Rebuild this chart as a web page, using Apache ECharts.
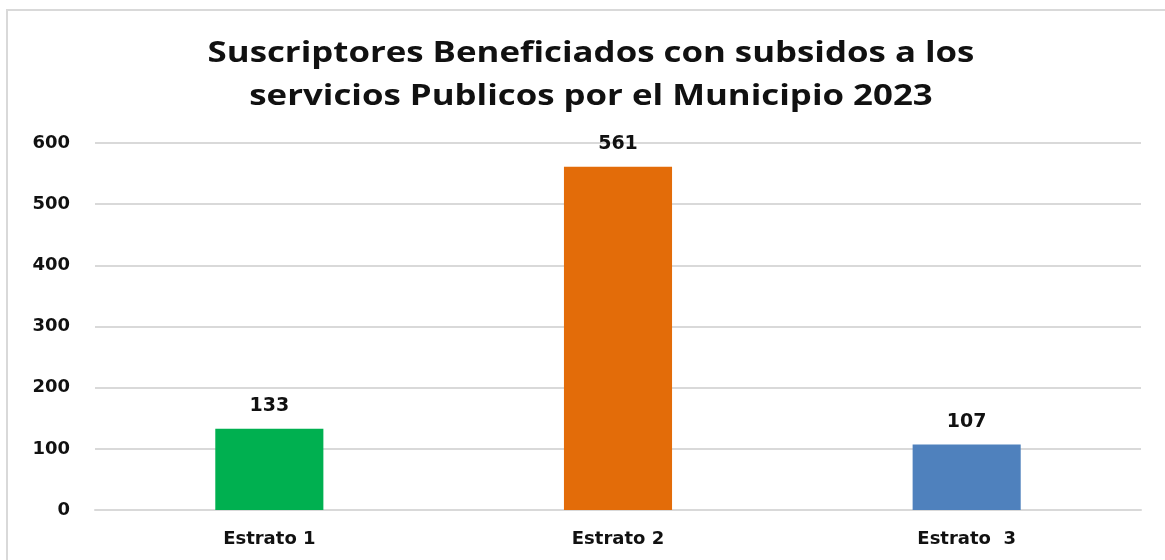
<!DOCTYPE html>
<html>
<head>
<meta charset="utf-8">
<script src="https://cdn.jsdelivr.net/npm/echarts@6/dist/echarts.min.js"></script>
<style>
  html, body { margin: 0; padding: 0; background: #fff; }
  #chart { width: 1165px; height: 560px; }
</style>
</head>
<body>
<div id="chart"></div>
<script>
// datos del grafico
var titulo = 'Suscriptores Beneficiados con subsidos a los\nservicios Publicos por el Municipio 2023';
var categorias = ['Estrato 1', 'Estrato 2', 'Estrato  3'];
var suscriptores = [133, 561, 107];
var colores = ['#00B050', '#E36C09', '#4F81BD'];
var ticksY = [0, 100, 200, 300, 400, 500, 600];

var myChart = echarts.init(document.getElementById('chart'));
var option = {
  backgroundColor: '#fff',
  graphic: [{
    type: 'rect',
    shape: { x: 7, y: 10, width: 1170, height: 560 },
    style: { fill: 'none', stroke: '#d9d9d9', lineWidth: 2 },
    silent: true
  }, {
    // titulo ensanchado como en el original
    type: 'text',
    x: 591,
    y: 32,
    scaleX: 1.2,
    style: {
      text: titulo,
      align: 'center',
      verticalAlign: 'top',
      fontFamily: 'Open Sans',
      fontWeight: 'bold',
      fontSize: 29,
      lineHeight: 43,
      fill: '#111'
    },
    silent: true
  }],
  grid: { left: 95, right: 24, top: 143, bottom: 50 },
  xAxis: {
    type: 'category',
    data: categorias,
    axisTick: { show: false },
    axisLine: { lineStyle: { color: '#d9d9d9', width: 2 } },
    axisLabel: {
      margin: 20,
      fontFamily: 'DejaVu Sans',
      fontWeight: 'bold',
      fontSize: 18,
      color: '#111'
    }
  },
  yAxis: {
    type: 'value',
    min: ticksY[0],
    max: ticksY[ticksY.length - 1],
    interval: 100,
    axisLine: { show: false },
    axisTick: { show: false },
    splitLine: { lineStyle: { color: '#d9d9d9', width: 2 } },
    axisLabel: {
      margin: 25,
      fontFamily: 'DejaVu Sans',
      fontWeight: 'bold',
      fontSize: 18,
      color: '#111'
    }
  },
  series: [{
    type: 'bar',
    barWidth: '31%',
    data: suscriptores.map(function (v, i) {
      return { value: v, itemStyle: { color: colores[i] } };
    }),
    label: {
      show: true,
      position: 'top',
      distance: 13,
      fontFamily: 'DejaVu Sans',
      fontWeight: 'bold',
      fontSize: 19,
      color: '#111'
    }
  }]
};
myChart.setOption(option);
</script>
</body>
</html>
